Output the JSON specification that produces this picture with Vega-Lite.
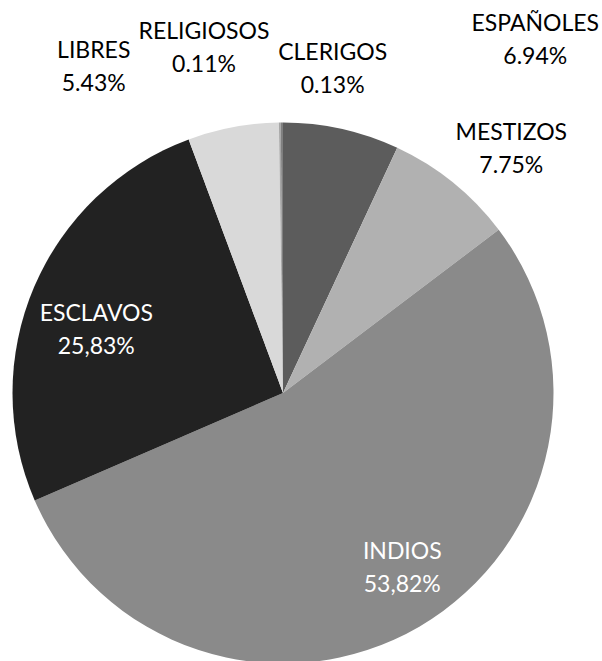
{
  "$schema": "https://vega.github.io/schema/vega-lite/v6.json",
  "width": 566,
  "height": 536,
  "autosize": {"type": "none"},
  "padding": {"top": 125, "left": 0, "right": 36, "bottom": 0},
  "background": "white",
  "view": {"stroke": null},
  "data": {
    "values": [
      {"idx": 1, "name": "ESPAÑOLES", "value": 6.94, "label": "ESPAÑOLES\n6.94%"},
      {"idx": 2, "name": "MESTIZOS", "value": 7.75, "label": "MESTIZOS\n7.75%"},
      {"idx": 3, "name": "INDIOS", "value": 53.82, "label": "INDIOS\n53,82%"},
      {"idx": 4, "name": "ESCLAVOS", "value": 25.83, "label": "ESCLAVOS\n25,83%"},
      {"idx": 5, "name": "LIBRES", "value": 5.43, "label": "LIBRES\n5.43%"},
      {"idx": 6, "name": "RELIGIOSOS", "value": 0.11, "label": "RELIGIOSOS\n0.11%"},
      {"idx": 7, "name": "CLERIGOS", "value": 0.13, "label": "CLERIGOS\n0.13%"}
    ]
  },
  "encoding": {
    "theta": {"field": "value", "type": "quantitative", "stack": true},
    "order": {"field": "idx", "type": "quantitative"}
  },
  "layer": [
    {
      "mark": {"type": "arc", "outerRadius": 270.5, "stroke": null},
      "encoding": {
        "color": {
          "field": "name",
          "type": "nominal",
          "legend": null,
          "scale": {
            "domain": ["ESPAÑOLES", "MESTIZOS", "INDIOS", "ESCLAVOS", "LIBRES", "RELIGIOSOS", "CLERIGOS"],
            "range": ["#5c5c5c", "#b1b1b1", "#8a8a8a", "#222222", "#d9d9d9", "#a6a6a6", "#7f7f7f"]
          }
        }
      }
    },
    {
      "mark": {"type": "text", "radius": 362, "dx": 174, "dy": -16, "font": "Lato", "fontSize": 23, "lineBreak": "\n", "lineHeight": 33, "fill": "#000000", "align": "center", "baseline": "middle"},
      "encoding": {"detail": {"field": "name"}, "text": {"condition": {"test": "datum.name === 'ESPAÑOLES'", "field": "label"}, "value": ""}}
    },
    {
      "mark": {"type": "text", "radius": 314, "dx": 31, "dy": -16, "font": "Lato", "fontSize": 23, "lineBreak": "\n", "lineHeight": 33, "fill": "#000000", "align": "center", "baseline": "middle"},
      "encoding": {"detail": {"field": "name"}, "text": {"condition": {"test": "datum.name === 'MESTIZOS'", "field": "label"}, "value": ""}}
    },
    {
      "mark": {"type": "text", "radius": 203, "dx": 17, "dy": -16, "font": "Lato", "fontSize": 23, "lineBreak": "\n", "lineHeight": 33, "fill": "#ffffff", "align": "center", "baseline": "middle"},
      "encoding": {"detail": {"field": "name"}, "text": {"condition": {"test": "datum.name === 'INDIOS'", "field": "label"}, "value": ""}}
    },
    {
      "mark": {"type": "text", "radius": 203, "dy": 1, "font": "Lato", "fontSize": 23, "lineBreak": "\n", "lineHeight": 33, "fill": "#ffffff", "align": "center", "baseline": "middle"},
      "encoding": {"detail": {"field": "name"}, "text": {"condition": {"test": "datum.name === 'ESCLAVOS'", "field": "label"}, "value": ""}}
    },
    {
      "mark": {"type": "text", "radius": 332, "dx": -128, "dy": -16, "font": "Lato", "fontSize": 23, "lineBreak": "\n", "lineHeight": 33, "fill": "#000000", "align": "center", "baseline": "middle"},
      "encoding": {"detail": {"field": "name"}, "text": {"condition": {"test": "datum.name === 'LIBRES'", "field": "label"}, "value": ""}}
    },
    {
      "mark": {"type": "text", "radius": 345, "dx": -75, "dy": -16, "font": "Lato", "fontSize": 23, "lineBreak": "\n", "lineHeight": 33, "fill": "#000000", "align": "center", "baseline": "middle"},
      "encoding": {"detail": {"field": "name"}, "text": {"condition": {"test": "datum.name === 'RELIGIOSOS'", "field": "label"}, "value": ""}}
    },
    {
      "mark": {"type": "text", "radius": 324, "dx": 51, "dy": -16, "font": "Lato", "fontSize": 23, "lineBreak": "\n", "lineHeight": 33, "fill": "#000000", "align": "center", "baseline": "middle"},
      "encoding": {"detail": {"field": "name"}, "text": {"condition": {"test": "datum.name === 'CLERIGOS'", "field": "label"}, "value": ""}}
    }
  ]
}
